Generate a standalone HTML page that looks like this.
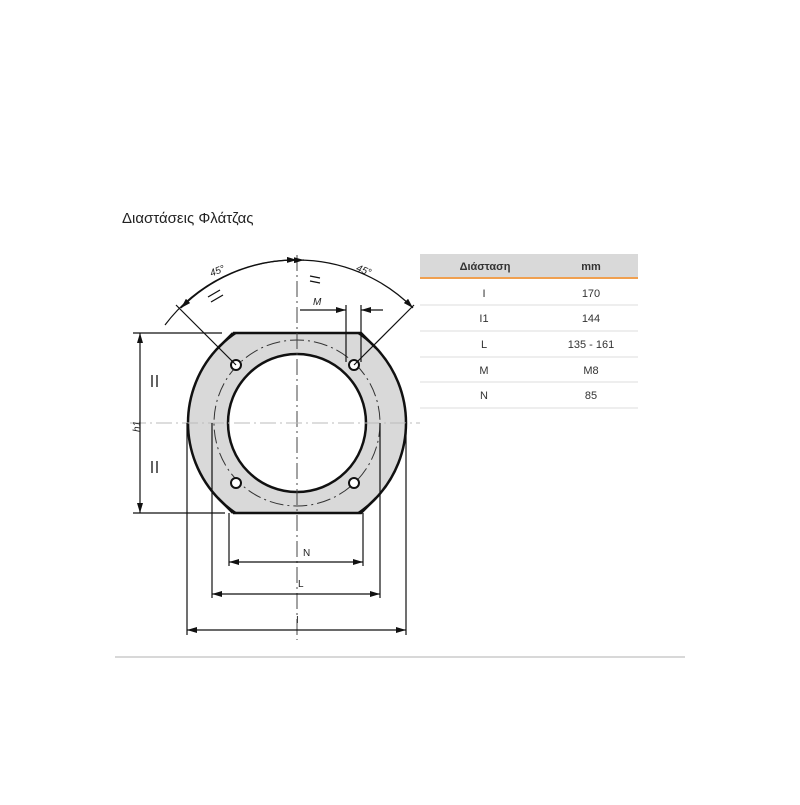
<!DOCTYPE html>
<html><head><meta charset="utf-8"><style>
body{margin:0;background:#fff;width:800px;height:800px;overflow:hidden;font-family:"Liberation Sans",sans-serif}
</style></head><body>
<svg width="800" height="800" viewBox="0 0 800 800" xmlns="http://www.w3.org/2000/svg" font-family="Liberation Sans, sans-serif">
<defs>
<marker id="a" viewBox="0 0 10 6" refX="10" refY="3" markerWidth="10" markerHeight="6" orient="auto-start-reverse" markerUnits="userSpaceOnUse"><path d="M0,0 L10,3 L0,6z" fill="#111"/></marker>
<clipPath id="c"><rect x="150" y="333" width="300" height="180"/></clipPath>
</defs>
<text x="122" y="223" font-size="15" fill="#222">Διαστάσεις Φλάτζας</text>
<!-- body -->
<circle cx="297" cy="423" r="109" fill="#d9d9d9" stroke="#111" stroke-width="2.5" clip-path="url(#c)"/>
<path d="M233,333 L361,333 L376,348 M233,333 L218,348 M233,513 L361,513 L376,498 M233,513 L218,498" stroke="#111" stroke-width="2.5" fill="none"/>
<circle cx="297" cy="423" r="69" fill="#fff" stroke="#111" stroke-width="2.5"/>
<circle cx="297" cy="423" r="83" fill="none" stroke="#333" stroke-width="1" stroke-dasharray="14,4,2,4"/>
<g fill="#fff" stroke="#111" stroke-width="2"><circle cx="236" cy="365" r="5"/><circle cx="354" cy="365" r="5"/><circle cx="236" cy="483" r="5"/><circle cx="354" cy="483" r="5"/></g>
<!-- centerlines -->
<line x1="297" y1="255" x2="297" y2="640" stroke="#444" stroke-width="1" stroke-dasharray="16,4,2,4"/>
<line x1="130" y1="423" x2="420" y2="423" stroke="#bbb" stroke-width="1" stroke-dasharray="16,4,2,4"/>
<!-- leader lines -->
<g stroke="#111" stroke-width="1.2" fill="none">
<line x1="236" y1="365" x2="176" y2="305"/>
<line x1="354" y1="365" x2="414" y2="305"/>
<path d="M165,325 A163,163 0 0 1 297,260" marker-end="url(#a)"/>
<path d="M181,308 A163,163 0 0 1 290,260" marker-start="url(#a)"/>
<path d="M297,260 A163,163 0 0 1 413,308" marker-end="url(#a)"/>
<path d="M304,260 A163,163 0 0 1 297,260" marker-start="url(#a)"/>
<!-- M -->
<line x1="346" y1="305" x2="346" y2="362"/>
<line x1="361" y1="305" x2="361" y2="362"/>
<line x1="300" y1="310" x2="346" y2="310" marker-end="url(#a)"/>
<line x1="383" y1="310" x2="361" y2="310" marker-end="url(#a)"/>
<!-- h1 -->
<line x1="133" y1="333" x2="222" y2="333"/>
<line x1="133" y1="513" x2="225" y2="513"/>
<line x1="140" y1="333" x2="140" y2="513" marker-start="url(#a)" marker-end="url(#a)"/>
<!-- verticals -->
<line x1="187" y1="423" x2="187" y2="635"/>
<line x1="406" y1="423" x2="406" y2="635"/>
<line x1="212" y1="423" x2="212" y2="598"/>
<line x1="380" y1="423" x2="380" y2="598"/>
<line x1="229" y1="513" x2="229" y2="566"/>
<line x1="363" y1="513" x2="363" y2="566"/>
<line x1="229" y1="562" x2="363" y2="562" marker-start="url(#a)" marker-end="url(#a)"/>
<line x1="212" y1="594" x2="380" y2="594" marker-start="url(#a)" marker-end="url(#a)"/>
<line x1="187" y1="630" x2="406" y2="630" marker-start="url(#a)" marker-end="url(#a)"/>
<!-- equal marks -->
<path d="M152,375 v12 M157,375 v12 M152,461 v12 M157,461 v12 M208,297 l12,-7 M211,302 l12,-7 M310,276 l10,2 M310,281 l10,2" stroke-width="1.3"/>
</g>
<g font-size="10" fill="#222" font-style="italic">
<text x="210" y="275" transform="rotate(-22 215 272)">45°</text>
<text x="356" y="272" transform="rotate(22 360 270)">45°</text>
<text x="313" y="305">M</text>
<text x="132" y="432" transform="rotate(-90 136 428)">h1</text>
</g>
<g font-size="10" fill="#222">
<text x="303" y="556">N</text>
<text x="298" y="587">L</text>
<text x="296" y="623">I</text>
</g>
<line x1="115" y1="657" x2="685" y2="657" stroke="#ccc" stroke-width="1.5"/>
<!-- table -->
<rect x="420" y="254" width="218" height="23" fill="#d9d9d9"/>
<line x1="420" y1="278" x2="638" y2="278" stroke="#f0a050" stroke-width="2"/>
<g stroke="#ddd" stroke-width="1">
<line x1="420" y1="305" x2="638" y2="305"/><line x1="420" y1="331" x2="638" y2="331"/><line x1="420" y1="357" x2="638" y2="357"/><line x1="420" y1="382" x2="638" y2="382"/><line x1="420" y1="408" x2="638" y2="408"/>
</g>
<g font-size="11" fill="#333" text-anchor="middle">
<text x="485" y="270" font-weight="bold">Διάσταση</text><text x="591" y="270" font-weight="bold">mm</text>
<text x="484" y="297">I</text><text x="591" y="297">170</text>
<text x="484" y="322">I1</text><text x="591" y="322">144</text>
<text x="484" y="348">L</text><text x="591" y="348">135 - 161</text>
<text x="484" y="374">M</text><text x="591" y="374">M8</text>
<text x="484" y="399">N</text><text x="591" y="399">85</text>
</g>
</svg>
</body></html>
